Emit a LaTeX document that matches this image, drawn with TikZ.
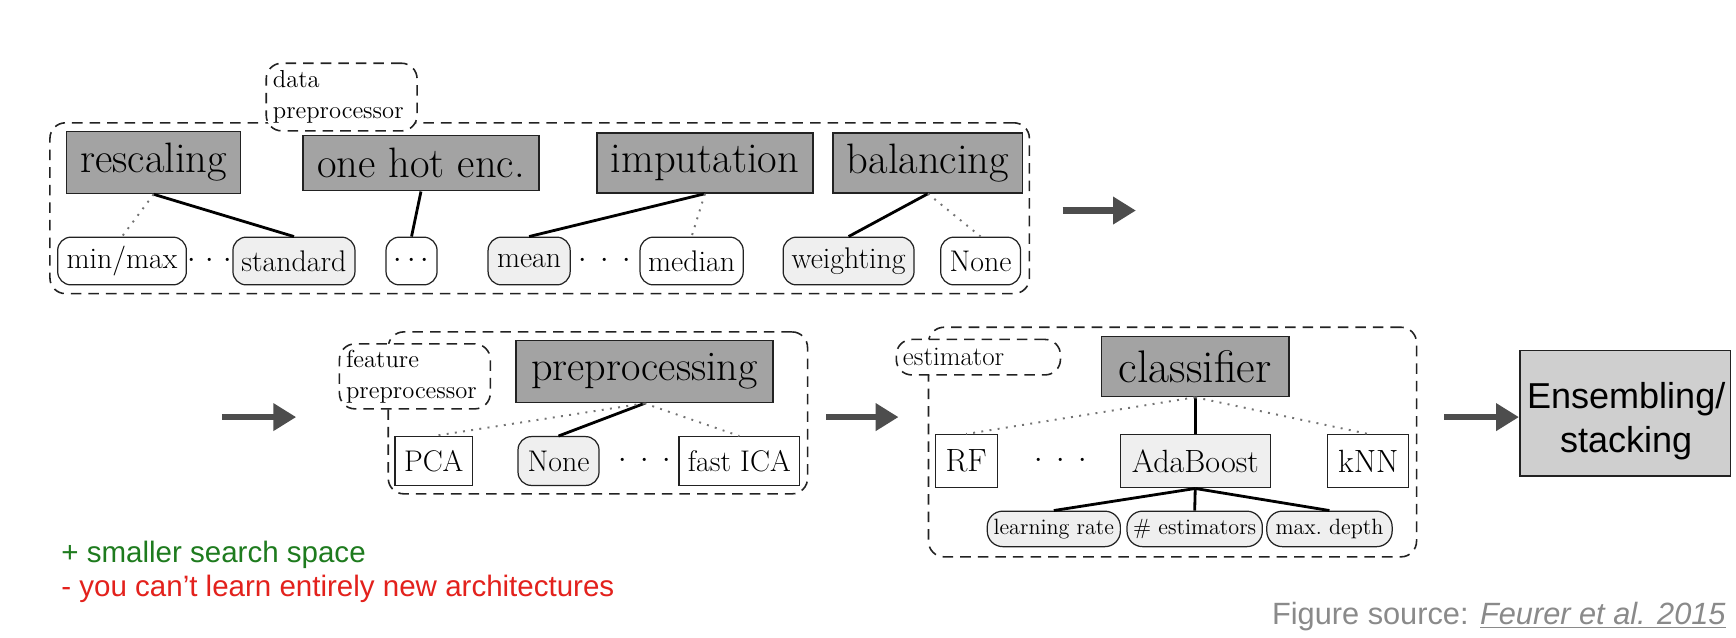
\documentclass[tikz,border=0pt]{standalone}
\usepackage{fontspec}
\newfontfamily\arialf{Liberation Sans}
\usetikzlibrary{arrows.meta}
\newcommand\pxu[1]{\fpeval{#1*0.022185}cm}
\newcommand\spreaddots[1][0.45em]{${\cdot}\hspace{#1}{\cdot}\hspace{#1}{\cdot}$}
\definecolor{darkbox}{HTML}{A3A3A3}
\definecolor{lightbox}{HTML}{EFEFEF}
\definecolor{ensbox}{HTML}{CFCFCF}
\definecolor{arrowc}{HTML}{4D4D4D}
\definecolor{edgec}{HTML}{222222}
\definecolor{plusg}{HTML}{1E7B1E}
\definecolor{minusr}{HTML}{E3211C}
\definecolor{srcg}{HTML}{8A8A8A}
\begin{document}
\begin{tikzpicture}[x=0.022185cm,y=-0.022185cm,
  sz/.style 2 args={minimum width=\pxu{#1},minimum height=\pxu{#2}},
  bigbox/.style={draw=edgec,line width=0.8pt,fill=darkbox,inner sep=0pt,font=\fontsize{24.2}{28}\selectfont},
  opt/.style={draw=edgec,line width=0.7pt,rounded corners=\pxu{12},inner sep=0pt,font=\fontsize{17}{20}\selectfont},
  optsel/.style={opt,fill=lightbox},
  sq/.style={draw=edgec,line width=0.7pt,inner sep=0pt,font=\fontsize{17}{20}\selectfont},
  sqb/.style={sq,font=\fontsize{18.3}{21}\selectfont},
  param/.style={draw=edgec,line width=0.7pt,fill=lightbox,rounded corners=\pxu{14},inner sep=0pt,font=\fontsize{12.6}{15}\selectfont},
  cont/.style={draw=edgec,line width=0.9pt,dash pattern=on 6pt off 4pt,rounded corners=\pxu{14},inner sep=0pt},
  bubble/.style={cont,fill=white,align=left,inner xsep=\pxu{6},inner ysep=0pt,font=\fontsize{14}{17.5}\selectfont},
  dotsn/.style={inner sep=0pt,font=\fontsize{17}{20}\selectfont},
  sel/.style={line width=1.6pt,draw=black},
  alt/.style={line width=1.1pt,draw=black!55,dash pattern=on 1.1pt off 3.6pt},
  bigarrow/.style={line width=3.8pt,draw=arrowc,-{Triangle[length=13pt,width=15pt]}},
]
\useasboundingbox (0,0) rectangle (1565,575.15);
\fill[white] (0,0) rectangle (1565,575.15);

% ---------- top row: data preprocessor ----------
\node[cont,sz={883}{154}] (c1) at (486.5,187.7) {};
\node[bubble,text width=\pxu{124},minimum height=\pxu{61}] (dp) at (308,87.5) {data\\preprocessor};
\node[bigbox,sz={157}{56}] (resc) at (138.5,146.5) {rescaling};
\node[bigbox,sz={213}{50}] (ohe) at (379.5,147) {one hot enc.};
\node[bigbox,sz={195}{54}] (imp) at (635.5,147) {imputation};
\node[bigbox,sz={171}{54}] (bal) at (836.5,147) {balancing};

\node[opt,sz={116}{43}] (minmax) at (110,235.3) {min/max};
\node[optsel,sz={110}{43}] (std) at (265,235.3) {standard};
\node[opt,sz={46}{43}] (odots) at (371,235.3) {$\cdots$};
\node[optsel,sz={74}{43}] (mean) at (477,235.3) {mean};
\node[opt,sz={93}{43}] (median) at (623.5,235.3) {median};
\node[optsel,sz={118}{43}] (weight) at (765,235.3) {weighting};
\node[opt,sz={72}{43}] (none1) at (884,235.3) {None};
\node[dotsn] (d1) at (189,235.3) {\spreaddots[0.33em]};
\node[dotsn] (d2) at (545,235.3) {\spreaddots};

\draw[sel] (resc.south) -- (std.north);
\draw[alt] (resc.south) -- (minmax.north);
\draw[sel] (ohe.south) -- (odots.north);
\draw[sel] (imp.south) -- (mean.north);
\draw[alt] (imp.south) -- (median.north);
\draw[sel] (bal.south) -- (weight.north);
\draw[alt] (bal.south) -- (none1.north);

\coordinate (a1s) at (958,189.8);
\coordinate (a1e) at (1024,189.8);
\draw[bigarrow] (a1s) -- (a1e);

% ---------- feature preprocessor ----------
\coordinate (a2s) at (200,376);
\coordinate (a2e) at (267,376);
\draw[bigarrow] (a2s) -- (a2e);

\node[cont,sz={378}{146}] (c2) at (539,372.2) {};
\node[bubble,text width=\pxu{124},minimum height=\pxu{58.6}] (fp) at (374,339.3) {feature\\preprocessor};
\node[bigbox,sz={232}{56},font=\fontsize{24}{28}\selectfont] (prep) at (581,335) {preprocessing};
\node[sq,sz={70}{44}] (pca) at (391,415.6) {PCA};
\node[opt,fill=lightbox,sz={73}{44}] (none2) at (503.5,415.6) {None};
\node[dotsn] (d3) at (581,415.6) {\spreaddots};
\node[sq,sz={109}{44}] (fica) at (666.5,415.6) {fast ICA};
\draw[sel] (prep.south) -- (none2.north);
\draw[alt] (prep.south) -- (pca.north);
\draw[alt] (prep.south) -- (fica.north);

\coordinate (a3s) at (745,376);
\coordinate (a3e) at (810,376);
\draw[bigarrow] (a3s) -- (a3e);

% ---------- estimator ----------
\node[cont,sz={440}{207}] (c3) at (1057,398.5) {};
\node[bubble,text width=\pxu{136},minimum height=\pxu{32},font=\fontsize{15.3}{18}\selectfont] (est) at (882,322) {estimator};
\node[bigbox,sz={169}{54},font=\fontsize{26}{30}\selectfont] (clf) at (1077.5,330.5) {classifier};
\node[sqb,sz={56}{48}] (rf) at (871,415.8) {RF};
\node[dotsn] (d4) at (956,415.8) {\spreaddots};
\node[sqb,fill=lightbox,sz={135}{48}] (ada) at (1077.5,415.8) {AdaBoost};
\node[sqb,sz={73}{48}] (knn) at (1233.5,415.8) {kNN};
\node[param,sz={120}{32}] (lr) at (950,476.8) {learning rate};
\node[param,sz={122}{32}] (nest) at (1077,476.8) {\# estimators};
\node[param,sz={113}{32}] (maxd) at (1198.5,476.8) {max.\ depth};
\draw[sel] (clf.south) -- (ada.north);
\draw[alt] (clf.south) -- (rf.north);
\draw[alt] (clf.south) -- (knn.north);
\draw[sel] (ada.south) -- (lr.north);
\draw[sel] (ada.south) -- (nest.north);
\draw[sel] (ada.south) -- (maxd.north);

% ---------- ensembling ----------
\node[draw=edgec,line width=0.9pt,fill=ensbox,sz={190}{113},inner sep=0pt] (ens) at (1465,372.4) {};
\node[inner sep=0pt,align=center,font=\arialf\fontsize{20.5}{25}\selectfont] (enstxt) at (1466,380) {Ensembling/\\stacking};
\coordinate (a4s) at (1302,376);
\draw[bigarrow] (a4s) -- (a4s -| ens.west);

% ---------- notes ----------
\node[anchor=west,inner sep=0pt,text=plusg,font=\arialf\fontsize{16.8}{19}\selectfont] (plus) at (55,500.5) {+ smaller search space};
\node[anchor=west,inner sep=0pt,text=minusr,font=\arialf\fontsize{16.8}{19}\selectfont] (minus) at (55,531) {- you can’t learn entirely new architectures};
\node[anchor=east,inner sep=0pt,text=srcg,font=\arialf\fontsize{17.5}{20}\selectfont] (src) at (1556,555.5) {Figure source: \underline{\textit{Feurer et al. 2015}}};
\end{tikzpicture}
\end{document}
